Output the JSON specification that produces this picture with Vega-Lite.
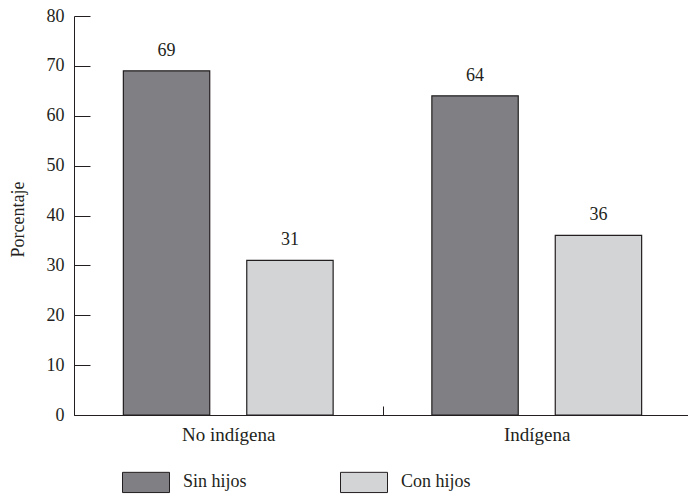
{
  "$schema": "https://vega.github.io/schema/vega-lite/v6.json",
  "width": 614,
  "height": 399,
  "autosize": {"type": "none"},
  "padding": {"left": 74, "top": 16, "right": 0, "bottom": 79},
  "background": "white",
  "data": {
    "values": [
      {"grupo": "No indígena", "hijos": "Sin hijos", "pct": 69},
      {"grupo": "No indígena", "hijos": "Con hijos", "pct": 31},
      {"grupo": "Indígena", "hijos": "Sin hijos", "pct": 64},
      {"grupo": "Indígena", "hijos": "Con hijos", "pct": 36}
    ]
  },
  "config": {
    "view": {"stroke": null},
    "font": "Liberation Serif",
    "axis": {
      "domainColor": "#231f20",
      "tickColor": "#231f20",
      "labelColor": "#231f20",
      "titleColor": "#231f20",
      "labelFont": "Liberation Serif",
      "titleFont": "Liberation Serif",
      "labelFontSize": 18,
      "titleFontSize": 18,
      "titleFontWeight": "normal",
      "grid": false
    },
    "legend": {
      "labelFont": "Liberation Serif",
      "labelFontSize": 18,
      "labelColor": "#231f20"
    }
  },
  "encoding": {
    "x": {
      "field": "grupo",
      "type": "nominal",
      "sort": ["No indígena", "Indígena"],
      "scale": {"range": [0, 617], "paddingInner": 0, "paddingOuter": 0},
      "axis": {
        "title": null,
        "labelAngle": 0,
        "labelFontSize": 19,
        "tickBand": "extent",
        "tickSize": -9,
        "labelPadding": 19,
        "domainWidth": 1
      }
    },
    "xOffset": {
      "field": "hijos",
      "type": "nominal",
      "sort": ["Sin hijos", "Con hijos"],
      "scale": {"paddingInner": 0.3, "paddingOuter": 0.4}
    },
    "y": {
      "field": "pct",
      "type": "quantitative",
      "scale": {"domain": [0, 80], "nice": false},
      "axis": {
        "title": "Porcentaje",
        "values": [0, 10, 20, 30, 40, 50, 60, 70, 80],
        "tickSize": -16,
        "labelPadding": 26,
        "titleX": -56,
        "titleY": 203,
        "titleAngle": 270,
        "titleAlign": "center",
        "titleBaseline": "middle"
      }
    }
  },
  "layer": [
    {
      "mark": {"type": "bar", "stroke": "#231f20", "strokeWidth": 1.2},
      "encoding": {
        "fill": {
          "field": "hijos",
          "type": "nominal",
          "sort": ["Sin hijos", "Con hijos"],
          "scale": {"domain": ["Sin hijos", "Con hijos"], "range": ["#808084", "#d3d4d6"]},
          "legend": {
            "title": null,
            "orient": "none",
            "direction": "horizontal",
            "legendX": 48,
            "legendY": 442,
            "symbolType": "M-1,-0.43H1V0.43H-1Z",
            "symbolSize": 2209,
            "symbolStrokeColor": "#231f20",
            "symbolStrokeWidth": 1,
            "symbolOpacity": 1,
            "labelOffset": 13,
            "columnPadding": 91,
            "padding": 0
          }
        }
      }
    },
    {
      "mark": {"type": "text", "baseline": "alphabetic", "dy": -15, "fontSize": 18, "font": "Liberation Serif", "color": "#231f20"},
      "encoding": {
        "text": {"field": "pct", "type": "quantitative"}
      }
    }
  ]
}
